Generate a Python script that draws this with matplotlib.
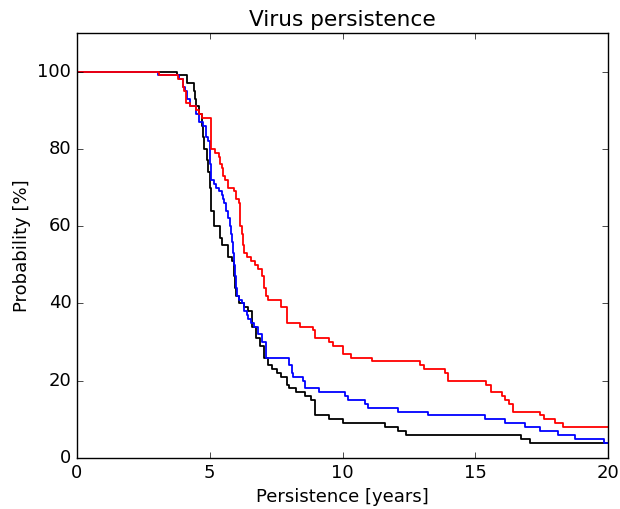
import matplotlib
matplotlib.use("Agg")
import matplotlib.pyplot as plt

plt.style.use("classic")

black_t = [0, 3.77, 4.13, 4.4, 4.45, 4.5, 4.6, 4.7, 4.75, 4.8, 4.9, 4.95, 5.0, 5.03, 5.06,
           5.15, 5.38, 5.45, 5.7, 5.85, 5.9, 5.95, 6.0, 6.1, 6.3, 6.45, 6.6, 6.75, 6.9,
           7.05, 7.2, 7.35, 7.55, 7.7, 7.9, 8.0, 8.25, 8.6, 8.8, 8.95, 9.5, 10.0, 11.6,
           12.1, 12.4, 16.7, 17.05, 20]
black_v = [100, 99, 97, 95, 93, 91, 89, 86, 83, 80, 77, 74, 70, 66, 64,
           60, 57, 55, 52, 51, 47, 44, 42, 40, 39, 38, 34, 31, 29,
           26, 24, 23, 22, 21, 19, 18, 17, 16, 15, 11, 10, 9, 8,
           7, 6, 5, 4, 4]

blue_t = [0, 3.05, 3.85, 4.0, 4.07, 4.15, 4.25, 4.5, 4.6, 4.75, 4.85, 4.95, 5.0, 5.05,
          5.15, 5.25, 5.35, 5.45, 5.5, 5.55, 5.62, 5.68, 5.75, 5.8, 5.85, 5.88, 5.92, 5.95,
          5.98, 6.02, 6.1, 6.2, 6.3, 6.4, 6.45, 6.55, 6.65, 6.8, 6.95, 7.1, 8.0, 8.08, 8.15,
          8.5, 8.6, 9.1, 10.1, 10.2, 10.85, 10.95, 12.1, 13.2, 15.35, 16.1, 16.85, 17.45,
          18.1, 18.75, 19.85, 20]
blue_v = [100, 99, 98, 96, 95, 93, 91, 89, 87, 86, 83, 82, 76, 72,
          71, 70, 69, 68, 67, 66, 64, 62, 60, 58, 56, 53, 50, 47,
          44, 42, 41, 40, 38, 37, 36, 35, 34, 32, 30, 26, 24, 22, 21,
          20, 18, 17, 16, 15, 14, 13, 12, 11, 10, 9, 8, 7,
          6, 5, 4, 4]

red_t = [0, 3.1, 3.8, 4.0, 4.05, 4.1, 4.25, 4.5, 4.6, 4.7, 5.03, 5.2, 5.35, 5.4, 5.45,
         5.5, 5.57, 5.7, 5.9, 6.0, 6.1, 6.15, 6.2, 6.25, 6.3, 6.4, 6.57, 6.7, 6.8, 6.95,
         7.05, 7.1, 7.2, 7.7, 7.9, 8.4, 8.9, 8.95, 9.5, 9.65, 10.0, 10.3, 11.1, 12.9, 13.05,
         13.85, 13.97, 15.4, 15.6, 16.0, 16.1, 16.25, 16.4, 17.45, 17.6, 18.0, 18.3, 20]
red_v = [100, 99, 98, 96, 95, 92, 91, 90, 89, 88, 80, 79, 78, 76, 75,
         73, 72, 70, 69, 67, 66, 60, 58, 55, 53, 52, 51, 50, 49, 47,
         44, 42, 41, 39, 35, 34, 33, 31, 30, 29, 27, 26, 25, 24, 23,
         22, 20, 19, 17, 16, 15, 14, 12, 11, 10, 9, 8, 8]

assert len(black_t) == len(black_v)
assert len(blue_t) == len(blue_v)
assert len(red_t) == len(red_v)

x_ticks = [0, 5, 10, 15, 20]
y_ticks = [0, 20, 40, 60, 80, 100]

fig = plt.figure(figsize=(6.2, 5.09), dpi=100, facecolor="white")
ax = fig.add_axes([0.124, 0.1002, 0.857, 0.835])
ax.set_facecolor("white")

lw = 1.3
ax.step(black_t, black_v, where="post", color="black", lw=lw)
ax.step(blue_t, blue_v, where="post", color="blue", lw=lw)
ax.step(red_t, red_v, where="post", color="red", lw=lw)

ax.set_xlim(0, 20)
ax.set_ylim(0, 110)
ax.set_xticks(x_ticks)
ax.set_yticks(y_ticks)
ax.set_title("Virus persistence", fontsize=15.6)
ax.set_xlabel("Persistence [years]", fontsize=13)
ax.set_ylabel("Probability [%]", fontsize=13)
ax.tick_params(labelsize=13)

fig.savefig("out.png", dpi=100, facecolor="white")
